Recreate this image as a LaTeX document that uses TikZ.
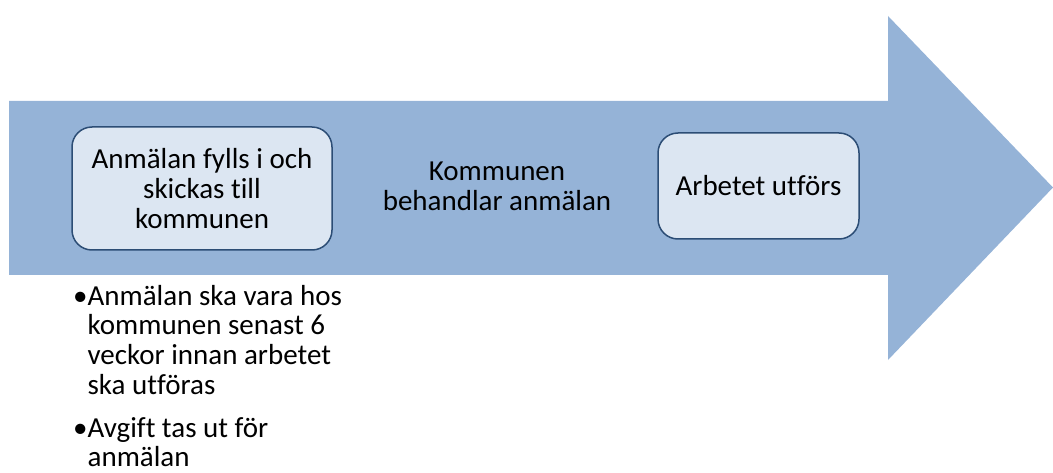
\documentclass[tikz,border=0pt]{standalone}
\usepackage{fontspec}
\setmainfont{Carlito}[Ligatures=CommonOff]
\definecolor{arrowblue}{HTML}{95B3D7}
\definecolor{boxfill}{HTML}{DCE6F2}
\definecolor{boxline}{HTML}{2C4D75}

\begin{document}
\begin{tikzpicture}[x=1pt,y=1pt,
    every node/.style={font=\fontsize{29}{30}\selectfont, inner sep=0pt},
    stepbox/.style={draw=boxline, line width=1.5pt, fill=boxfill, rounded corners=20pt, align=center},
    noteitem/.style={anchor=north west, font=\fontsize{29}{29.8}\selectfont}]

        \useasboundingbox (0,0) rectangle (1053,472);

        %===========================
        % Big arrow
        %===========================
        \fill[arrowblue] (9,197) -- (888,197) -- (888,112) -- (1053,284.5)
            -- (888,456) -- (888,371) -- (9,371) -- cycle;

        %===========================
        % Steps
        %===========================
        \node (fillin) at (202,283.5) [stepbox, minimum width=260pt, minimum height=123pt]
            {Anmälan fylls i och\\skickas till\\kommunen};
        \node (handle) at (497,286) [align=center] {Kommunen\\behandlar anmälan};
        \node (work) at (758.5,286) [stepbox, minimum width=201pt, minimum height=106pt]
            {Arbetet utförs};

        %===========================
        % Notes below first step
        %===========================
        \node (note1) at (73,188) [noteitem]
            {\begin{tabular}{@{}l@{}l@{}}
             •&Anmälan ska vara hos\\
             &kommunen senast 6\\
             &veckor innan arbetet\\
             &ska utföras
             \end{tabular}};
        \node (note2) at (73,56) [noteitem]
            {\begin{tabular}{@{}l@{}l@{}}
             •&Avgift tas ut för\\
             &anmälan
             \end{tabular}};
\end{tikzpicture}
\end{document}
